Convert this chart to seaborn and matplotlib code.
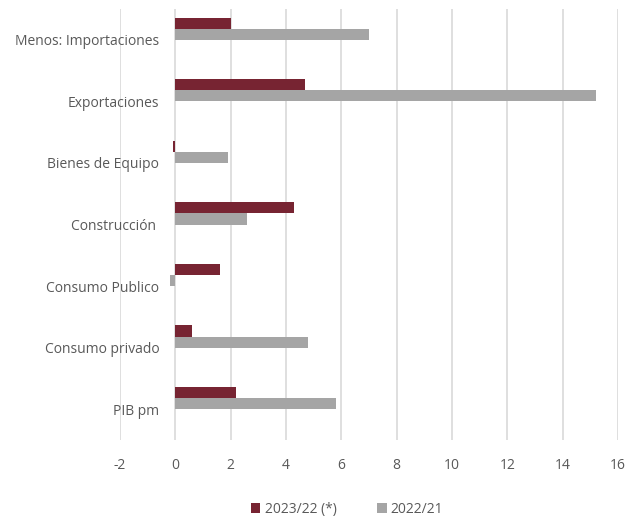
import matplotlib
matplotlib.use("Agg")
import matplotlib.pyplot as plt
import seaborn as sns
import pandas as pd

categories = ["Menos: Importaciones", "Exportaciones", "Bienes de Equipo",
              "Construcción ", "Consumo Publico", "Consumo privado", "PIB pm"]
series_names = ["2023/22 (*)", "2022/21"]
vals_2023 = [2.0, 4.7, -0.1, 4.3, 1.6, 0.6, 2.2]
vals_2022 = [7.0, 15.2, 1.9, 2.6, -0.2, 4.8, 5.8]
xticks = [-2, 0, 2, 4, 6, 8, 10, 12, 14, 16]

df = pd.DataFrame({
    "cat": categories * 2,
    "serie": [series_names[0]] * len(categories) + [series_names[1]] * len(categories),
    "val": vals_2023 + vals_2022,
})

sns.set_theme(style="white")
plt.rcParams["font.family"] = ["Open Sans", "DejaVu Sans"]

fig = plt.figure(figsize=(6.35, 5.27), dpi=100)
ax = fig.add_axes([0.189, 0.165, 0.784, 0.818])

sns.barplot(data=df, y="cat", x="val", hue="serie", order=categories,
            hue_order=series_names, palette=["#772432", "#A5A5A5"],
            orient="h", width=0.36, dodge=True, ax=ax, errorbar=None,
            saturation=1, linewidth=0)

ax.set_xlim(-2, 16)
ax.set_xticks(xticks)
ax.set_xticklabels([str(t) for t in xticks])
n = len(categories)
ax.set_ylim(n - 1 + 0.18 + 0.5, 0.18 - 0.5)
ax.set_yticks([i + 0.18 for i in range(n)])
ax.set_yticklabels(categories)
ax.set_xlabel("")
ax.set_ylabel("")

ax.grid(axis="x", color="#D9D9D9", linewidth=1.2)
ax.grid(axis="y", visible=False)
ax.set_axisbelow(True)
for s in ["top", "right", "bottom"]:
    ax.spines[s].set_visible(False)
ax.spines["left"].set_position(("data", 0))
ax.spines["left"].set_visible(False)

ax.tick_params(axis="y", length=0, pad=11.5, labelsize=10, labelcolor="#595959")
ax.tick_params(axis="x", length=0, pad=13, labelsize=10, labelcolor="#595959")

sns.move_legend(ax, "center", bbox_to_anchor=(0.456, -0.16), ncol=2,
                frameon=False, title=None, fontsize=10,
                handlelength=0.7, handleheight=0.7, handletextpad=0.3,
                columnspacing=2.9)
for t in ax.get_legend().get_texts():
    t.set_color("#595959")

fig.savefig("out.png", dpi=100)
